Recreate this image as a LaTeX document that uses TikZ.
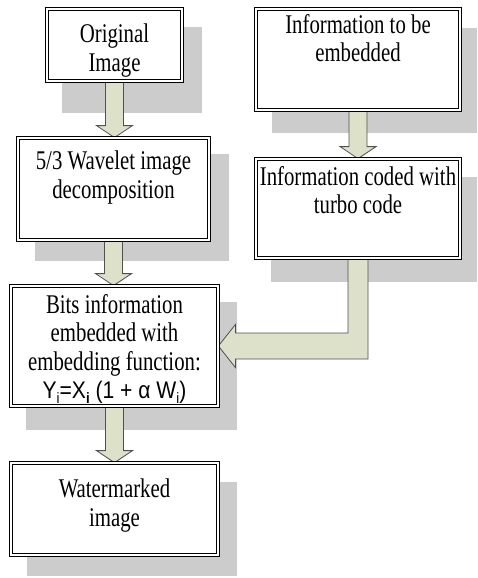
\documentclass[tikz,border=0pt]{standalone}
\usepackage{fontspec}
\setmainfont{Liberation Serif}[FakeStretch=0.77]
\newfontfamily\formulafont{Liberation Sans}[FakeStretch=0.88]
\usetikzlibrary{calc}

\definecolor{shadowgray}{HTML}{CCCCCC}
\definecolor{arrowfill}{HTML}{DDE1CA}
\definecolor{arrowline}{HTML}{505050}

\pgfdeclarelayer{background}
\pgfdeclarelayer{arrows}
\pgfsetlayers{background,arrows,main}

\tikzset{
  box/.style={draw=black, fill=white, line width=1pt, double=white,
    double distance=2.2pt, inner sep=0pt},
  txt/.style={align=center, inner sep=0pt, anchor=north,
    font=\fontsize{27}{28.5}\selectfont},
  blockarrow/.style={fill=arrowfill, draw=arrowline, line width=0.8pt,
    line join=miter},
  boxshadow/.style={fill=shadowgray},
}

% small lowered index for the formula
\newcommand\lowidx[1]{\raisebox{-0.2em}{\fontsize{15}{15}\selectfont #1}}

% vertical block arrow from the bottom of one box to the top of the next
\newcommand\downblock[2]{%
  \path let \p1=(#1.south), \p2=(#2.north) in
    [blockarrow] (\x1-9pt,\y1) -- (\x1+9pt,\y1) -- (\x1+9pt,\y2+12pt)
    -- (\x1+18pt,\y2+12pt) -- (\x1,\y2) -- (\x1-18pt,\y2+12pt)
    -- (\x1-9pt,\y2+12pt) -- cycle;}

\begin{document}
\begin{tikzpicture}[x=1pt,y=-1pt]
\useasboundingbox (0,0) rectangle (478,578);

% boxes of the left column
\node[box, minimum width=134.8pt, minimum height=71.8pt]  (b1) at (114.5,45)  {};
\node[box, minimum width=190.8pt, minimum height=101.8pt] (b2) at (113.5,189) {};
\node[box, minimum width=206.8pt, minimum height=119.8pt] (b3) at (114.5,346) {};
\node[box, minimum width=206.8pt, minimum height=91.8pt]  (b4) at (114.5,509) {};
% boxes of the right column
\node[box, minimum width=203.8pt, minimum height=100.8pt] (bA) at (358,59.5)  {};
\node[box, minimum width=203.8pt, minimum height=98.8pt]  (bB) at (358,208.5) {};

% texts
\node[txt] (t1) at ($(b1.north)+(0,15.4)$) {Original\\Image};
\node[txt] (t2) at ($(b2.north)+(0,13)$) {5/3 Wavelet image\\decomposition};
\node[txt] (t3) at ($(b3.north)+(0,8.4)$) {Bits information\\embedded with\\embedding function:\\
  {\formulafont\fontsize{24}{28.5}\selectfont
   Y\lowidx{i}=X\lowidx{\textbf{i}} (1 + α W\lowidx{i})}};
\node[txt] (t4) at ($(b4.north)+(0,16)$) {Watermarked\\image};
\node[txt] (tA) at ($(bA.north)+(0,5.4)$) {Information to be\\embedded};
\node[txt] (tB) at ($(bB.north)+(0,7.4)$) {Information coded with\\turbo code};

% drop shadows
\begin{pgfonlayer}{background}
  \fill[boxshadow] ($(b1.north west)+(15,18)$) rectangle ($(b1.south east)+(20,32)$);
  \fill[boxshadow] ($(b2.north west)+(17,16)$) rectangle ($(b2.south east)+(20,21)$);
  \fill[boxshadow] ($(b3.north west)+(15,16)$) rectangle ($(b3.south east)+(19,24)$);
  \fill[boxshadow] ($(b4.north west)+(16,19)$) rectangle ($(b4.south east)+(19,21)$);
  \fill[boxshadow] ($(bA.north west)+(16,19)$) rectangle ($(bA.south east)+(17,23)$);
  \fill[boxshadow] ($(bB.north west)+(15,18)$) rectangle ($(bB.south east)+(17,24)$);
\end{pgfonlayer}

% block arrows
\begin{pgfonlayer}{arrows}
  \downblock{b1}{b2}
  \downblock{b2}{b3}
  \downblock{b3}{b4}
  \downblock{bA}{bB}
  % bent arrow from the coded information into the embedding step
  \path let \p1=(bB.south), \p2=(b3.east) in
    [blockarrow] (\x1-10pt,\y1) -- (\x1+10pt,\y1) -- (\x1+10pt,\y2-13pt)
    -- (\x2+17pt,\y2-13pt) -- (\x2+17pt,\y2-21.5pt) -- (\x2,\y2)
    -- (\x2+17pt,\y2+21.5pt) -- (\x2+17pt,\y2+13pt)
    -- (\x1-10pt,\y2+13pt) -- cycle;
\end{pgfonlayer}
\end{tikzpicture}
\end{document}
